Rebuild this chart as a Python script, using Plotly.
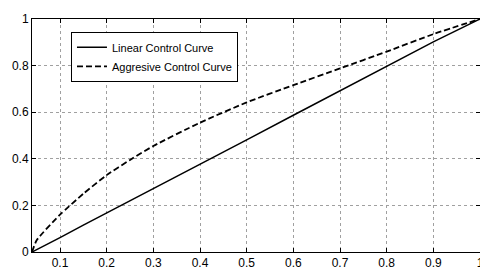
import plotly.graph_objects as go

x_vals = [0.04, 0.05, 0.1, 0.15, 0.2, 0.25, 0.3, 0.4, 0.5, 0.6, 0.7, 0.8, 0.9, 1.0]
linear_y = [0.0, 0.01, 0.062, 0.115, 0.167, 0.219, 0.271, 0.376, 0.481, 0.587, 0.693, 0.798, 0.902, 1.0]
aggressive_y = [0.0, 0.05, 0.16, 0.25, 0.33, 0.395, 0.455, 0.555, 0.642, 0.716, 0.788, 0.86, 0.935, 1.0]

x_ticks = [0.1, 0.2, 0.3, 0.4, 0.5, 0.6, 0.7, 0.8, 0.9, 1.0]
x_tick_text = ["0.1", "0.2", "0.3", "0.4", "0.5", "0.6", "0.7", "0.8", "0.9", "1"]
y_ticks = [0, 0.2, 0.4, 0.6, 0.8, 1.0]
y_tick_text = ["0", "0.2", "0.4", "0.6", "0.8", "1"]

fig = go.Figure()
fig.add_trace(go.Scatter(x=x_vals, y=linear_y, mode="lines", name="Linear Control Curve",
                         line=dict(color="black", width=1.5)))
fig.add_trace(go.Scatter(x=x_vals, y=aggressive_y, mode="lines", name="Aggresive Control Curve",
                         line=dict(color="black", width=1.8, dash="6px,3px",
                                   shape="spline", smoothing=0.6)))

axis_common = dict(showline=True, linecolor="black", linewidth=1, mirror="ticks",
                   ticks="inside", ticklen=4, tickcolor="black",
                   showgrid=True, gridcolor="#a0a0a0", gridwidth=1, griddash="dot",
                   zeroline=False, ticklabeloverflow="allow",
                   tickfont=dict(family="Liberation Sans, Arial", size=12, color="black"))

fig.update_xaxes(range=[0.04, 1.0], tickvals=x_ticks, ticktext=x_tick_text, **axis_common)
fig.update_yaxes(range=[0, 1.0], tickvals=y_ticks, ticktext=y_tick_text, **axis_common)

fig.update_layout(
    width=480, height=266,
    margin=dict(l=15, r=4, t=4, b=22),
    paper_bgcolor="white", plot_bgcolor="white",
    showlegend=True,
    legend=dict(x=0.087, y=0.945, xanchor="left", yanchor="top",
                bgcolor="white", bordercolor="black", borderwidth=1,
                font=dict(family="Liberation Sans, Arial", size=11, color="black"),
                tracegroupgap=0, itemwidth=30),
)

fig.write_html("out.html")
